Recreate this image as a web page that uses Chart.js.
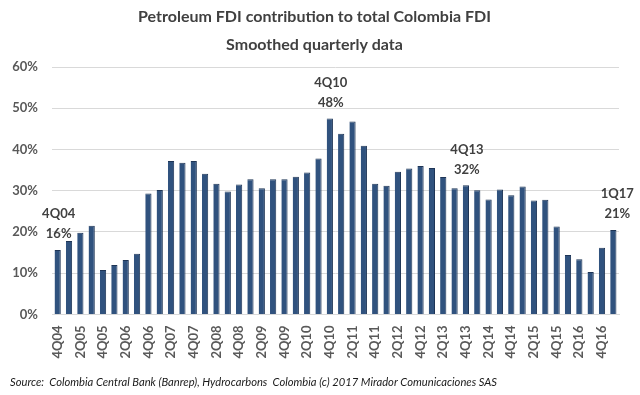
<!DOCTYPE html>
<html>
<head>
<meta charset="utf-8">
<script src="https://cdn.jsdelivr.net/npm/chart.js@4"></script>
<style>
  html, body { margin: 0; padding: 0; background: #fff; }
  #wrap { width: 640px; height: 395px; }
</style>
</head>
<body>
<div id="wrap"><canvas id="grafico"></canvas></div>
<script>
// quarters from 4Q04 to 1Q17
const trimestres = [
  '4Q04',
  '1Q05', '2Q05', '3Q05', '4Q05',
  '1Q06', '2Q06', '3Q06', '4Q06',
  '1Q07', '2Q07', '3Q07', '4Q07',
  '1Q08', '2Q08', '3Q08', '4Q08',
  '1Q09', '2Q09', '3Q09', '4Q09',
  '1Q10', '2Q10', '3Q10', '4Q10',
  '1Q11', '2Q11', '3Q11', '4Q11',
  '1Q12', '2Q12', '3Q12', '4Q12',
  '1Q13', '2Q13', '3Q13', '4Q13',
  '1Q14', '2Q14', '3Q14', '4Q14',
  '1Q15', '2Q15', '3Q15', '4Q15',
  '1Q16', '2Q16', '3Q16', '4Q16',
  '1Q17'
];

// petroleum share of total FDI, %
const participacao = [
  15.6,
  17.8, 19.8, 21.5, 10.8,
  12.0, 13.2, 14.7, 29.3,
  30.2, 37.2, 36.8, 37.2,
  34.1, 31.7, 29.8, 31.5,
  32.8, 30.6, 32.8, 32.8,
  33.4, 34.4, 37.8, 47.5,
  43.8, 46.8, 40.9, 31.7,
  31.2, 34.6, 35.4, 36.0,
  35.5, 33.3, 30.6, 31.3,
  30.1, 27.9, 30.3, 28.9,
  31.0, 27.6, 27.8, 21.3,
  14.4, 13.4, 10.3, 16.2,
  20.5
];

// highlighted bars and their labels
const destaques = ['4Q04', '4Q10', '4Q13', '1Q17'];
const destaquesTexto = ['16%', '48%', '32%', '21%'];

const fonte = 'Lato, "Open Sans", sans-serif';
const cinza = '#595959';

// draws the two-line labels above the highlighted bars
const rotulos = {
  id: 'rotulos',
  afterDatasetsDraw(chart) {
    const ctx = chart.ctx;
    const meta = chart.getDatasetMeta(0);
    ctx.save();
    ctx.font = 'bold 13px ' + fonte;
    ctx.fillStyle = '#404040';
    ctx.textAlign = 'center';
    ctx.textBaseline = 'middle';
    destaques.forEach((q, i) => {
      const barra = meta.data[trimestres.indexOf(q)];
      const dx = q === '1Q17' ? 4 : 1;
      ctx.fillText(q, barra.x + dx, barra.y - 36);
      ctx.fillText(destaquesTexto[i], barra.x + dx, barra.y - 16);
    });
    ctx.restore();
  }
};

window.onload = () => {
  const contexto = document.getElementById('grafico');
  new Chart(contexto, {
    type: 'bar',
    data: {
      labels: trimestres,
      datasets: [{
        data: participacao,
        backgroundColor: '#30527e',
        borderColor: '#1e3556',
        borderWidth: { left: 0, right: 1, top: 1, bottom: 0 },
        barPercentage: 0.55,
        categoryPercentage: 1
      }]
    },
    options: {
      responsive: true,
      maintainAspectRatio: false,
      animation: false,
      layout: { padding: { left: 10, right: 21, top: 0, bottom: 0 } },
      plugins: {
        legend: { display: false },
        tooltip: { enabled: false },
        title: {
          display: true,
          text: ['Petroleum FDI contribution to total Colombia FDI', 'Smoothed quarterly data'],
          color: '#404040',
          font: { family: fonte, size: 16, weight: 'bold', lineHeight: 1.75 },
          padding: { top: 3, bottom: 8 }
        },
        subtitle: {
          display: true,
          position: 'bottom',
          align: 'start',
          text: 'Source:  Colombia Central Bank (Banrep), Hydrocarbons  Colombia (c) 2017 Mirador Comunicaciones SAS',
          color: '#1a1a1a',
          font: { family: fonte, size: 11.2, style: 'italic' },
          padding: { top: 14, bottom: 6 }
        }
      },
      scales: {
        x: {
          grid: { display: false },
          border: { color: '#d9d9d9' },
          ticks: {
            autoSkip: false,
            minRotation: 90,
            maxRotation: 90,
            color: cinza,
            font: { family: fonte, size: 13, weight: 'bold' },
            callback: (v, i) => (i % 2 === 0 ? trimestres[i] : '')
          }
        },
        y: {
          min: 0,
          max: 60,
          afterFit: eixo => { eixo.width = 42; },
          grid: { color: '#d9d9d9', drawTicks: false },
          border: { display: false },
          ticks: {
            stepSize: 10,
            padding: 14,
            color: cinza,
            font: { family: fonte, size: 13, weight: 'bold' },
            callback: v => v + '%'
          }
        }
      }
    },
    plugins: [rotulos]
  });
};
</script>
</body>
</html>
